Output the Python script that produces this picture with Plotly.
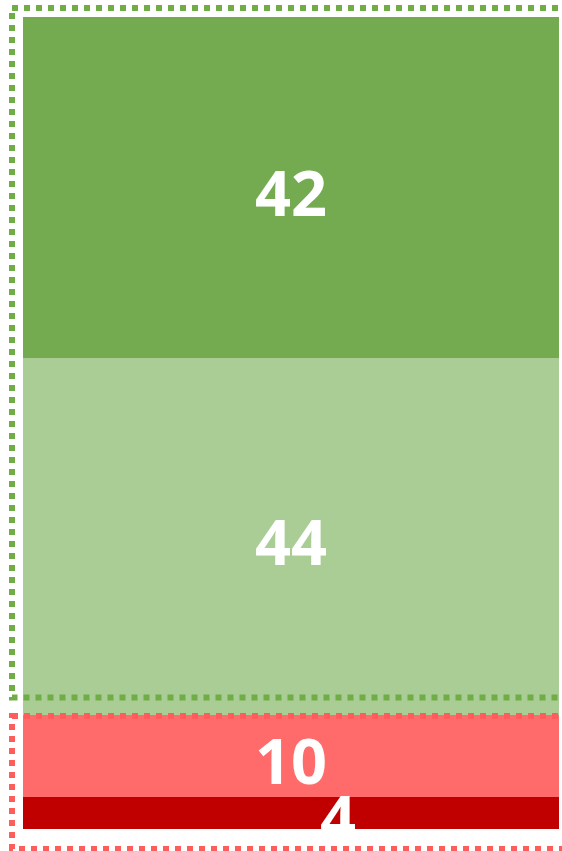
import plotly.graph_objects as go

# Data (bottom to top)
segments = ["Strongly disagree", "Disagree", "Agree", "Strongly agree"]
values = [4, 10, 44, 42]
colors = ["#C00000", "#FF6B6B", "#A9CD94", "#75AB50"]
category = ["All"]

W, H = 562, 851
ml, mr, mt, mb = 23, 3, 17, 22
pw, ph = W - ml - mr, H - mt - mb

fig = go.Figure()
for name, v, c in zip(segments, values, colors):
    fig.add_trace(go.Bar(x=category, y=[v], name=name, marker=dict(color=c, line=dict(width=0)),
                         hoverinfo="skip"))

# labels at segment middles
xshift = {"Strongly disagree": 47}
cum = 0
for name, v in zip(segments, values):
    mid = cum + v / 2
    cum += v
    fig.add_annotation(x=category[0], y=mid, text=f"<b>{v}</b>", showarrow=False,
                       font=dict(family="Open Sans", size=63, color="white"),
                       xanchor="center", yanchor="middle",
                       xshift=xshift.get(name, 0), yshift=-4)

def px_x(p):
    return (p - ml) / pw

def px_y(p):
    return (H - mb - p) / ph

# dotted group frames
fig.add_shape(type="rect", xref="paper", yref="paper",
              x0=px_x(12), x1=px_x(570), y0=px_y(8), y1=px_y(697.5),
              line=dict(color="#70AD47", width=6, dash="dot"), layer="above")
fig.add_shape(type="rect", xref="paper", yref="paper",
              x0=px_x(12), x1=px_x(570), y0=px_y(716), y1=px_y(849),
              line=dict(color="#FF5C5C", width=6, dash="dot"), layer="above")

fig.update_layout(
    width=W, height=H,
    margin=dict(l=ml, r=mr, t=mt, b=mb, pad=0),
    barmode="stack", bargap=0,
    showlegend=False,
    paper_bgcolor="white", plot_bgcolor="white",
    xaxis=dict(visible=False),
    yaxis=dict(visible=False, range=[0, sum(values)]),
)

fig.write_html("out.html", config={"displayModeBar": False},
               post_script="document.body.style.margin='0';document.body.style.overflow='hidden';")
